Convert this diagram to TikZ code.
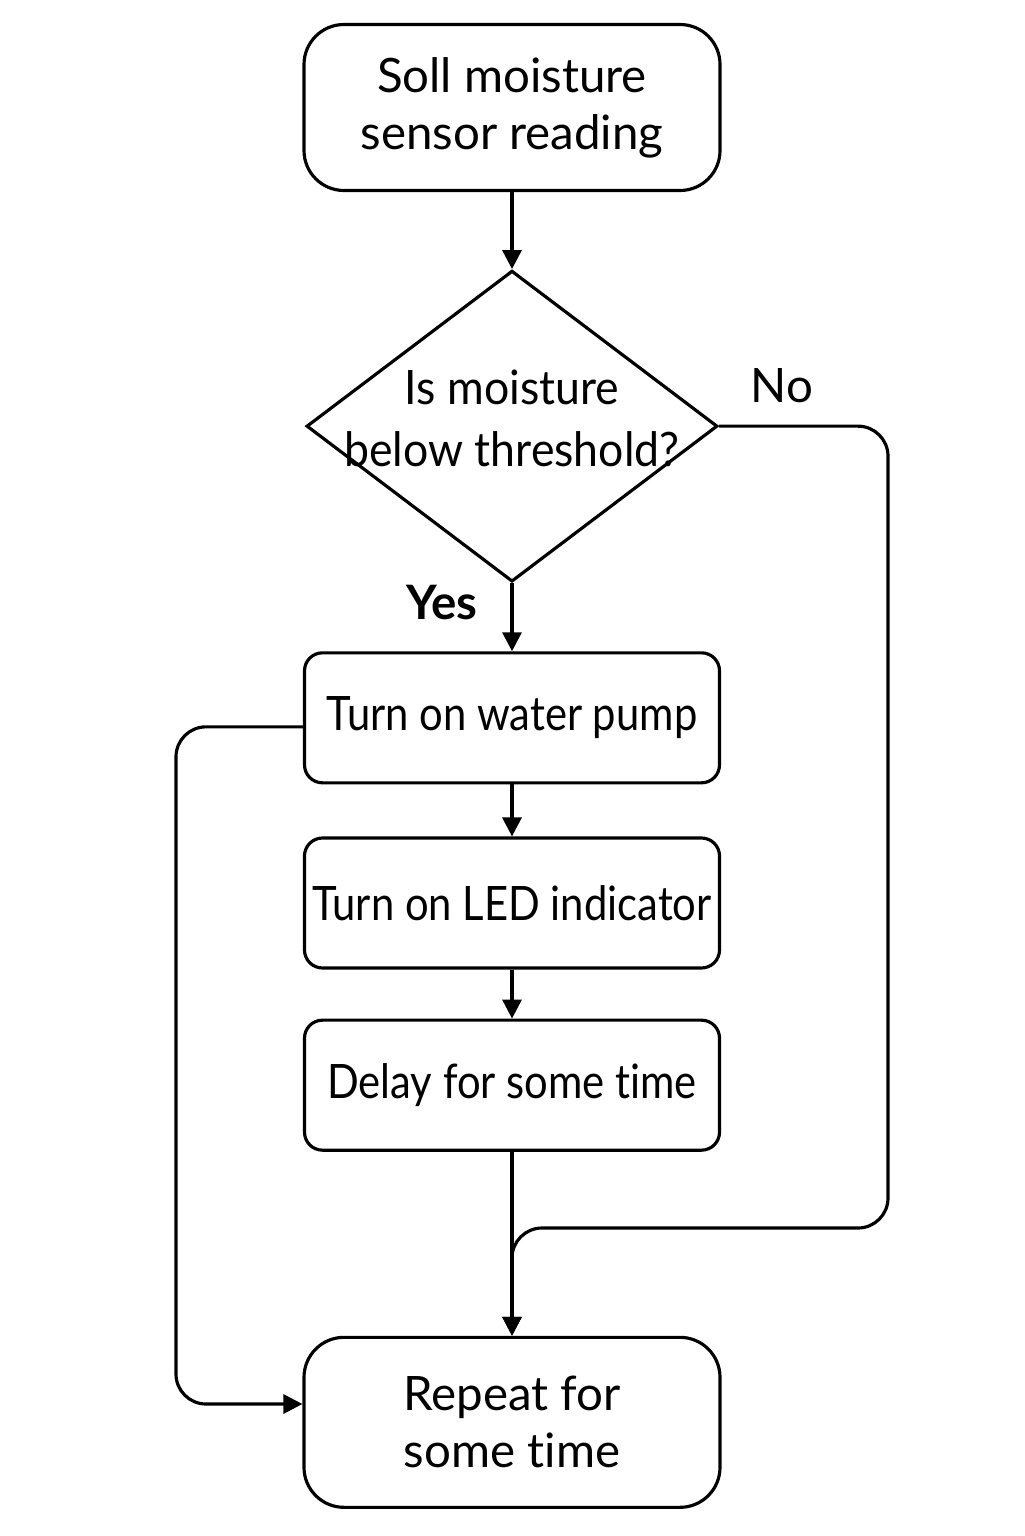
\documentclass[tikz,border=0pt]{standalone}
\usepackage{fontspec}
\setmainfont{Lato}[Ligatures=NoCommon]
\usetikzlibrary{arrows.meta,positioning,shapes.geometric}

\begin{document}
\begin{tikzpicture}
		\tikzstyle{terminal} = [rectangle, draw, line width=0.9pt, rounded corners=0.4cm, minimum width=4.16cm, minimum height=1.66cm, align=center, font=\fontsize{13.5}{16.2}\selectfont]
		\tikzstyle{block} = [rectangle, draw, line width=0.9pt, rounded corners=0.18cm, minimum width=4.15cm, minimum height=1.3cm, inner xsep=2pt, align=center, font=\fontsize{13.5}{16.2}\selectfont\addfontfeatures{FakeStretch=0.88}]
		\tikzstyle{decision} = [diamond, draw, line width=0.9pt, inner sep=0pt, minimum width=4.11cm, minimum height=3.11cm]
		\tikzstyle{answer} = [font=\fontsize{13.5}{16.2}\selectfont]
		\tikzstyle{line} = [draw, line width=0.9pt, -{Triangle[length=0.19cm,width=0.19cm]}]
		\useasboundingbox (0,0) rectangle (10.24,-15.36);
		\node [terminal] (sensor) at (5.12,-1.075) {Soll moisture\\sensor reading};
		\node [decision, below=0.77cm of sensor, label={[align=center, yshift=0.08cm, font=\fontsize{13.5}{17.6}\selectfont\addfontfeatures{FakeStretch=0.94}]center:Is moisture\\below threshold?}] (check) {};
		\node [block, below=0.68cm of check] (pump) {Turn on water pump};
		\node [block, below=0.52cm of pump] (led) {Turn on LED indicator};
		\node [block, below=0.49cm of led] (delay) {Delay for some time};
		\node [terminal, below=1.84cm of delay, minimum height=1.7cm] (repeat) {Repeat for\\some time};
		\node [answer] (no) at (7.82,-3.86) {No};
		\node [answer, font=\fontsize{13.5}{16.2}\selectfont\bfseries] (yes) at (4.42,-6.03) {Yes};
		\coordinate (noturn) at (8.88,-12.28);
		\coordinate (loopleft) at (1.76,-14.04);

		\path[line] (sensor) -- (check);
		\path[line] (check) -- (pump);
		\path[line] (pump) -- (led);
		\path[line] (led) -- (delay);
		\path[line] (delay) -- (repeat);
		\path[line, rounded corners=0.3cm] (check.east) -| (noturn) -| (repeat.north);
		\path[line, rounded corners=0.3cm] ([yshift=-0.09cm]pump.west) -| (loopleft) -- (repeat.west |- loopleft);
	\end{tikzpicture}
\end{document}
